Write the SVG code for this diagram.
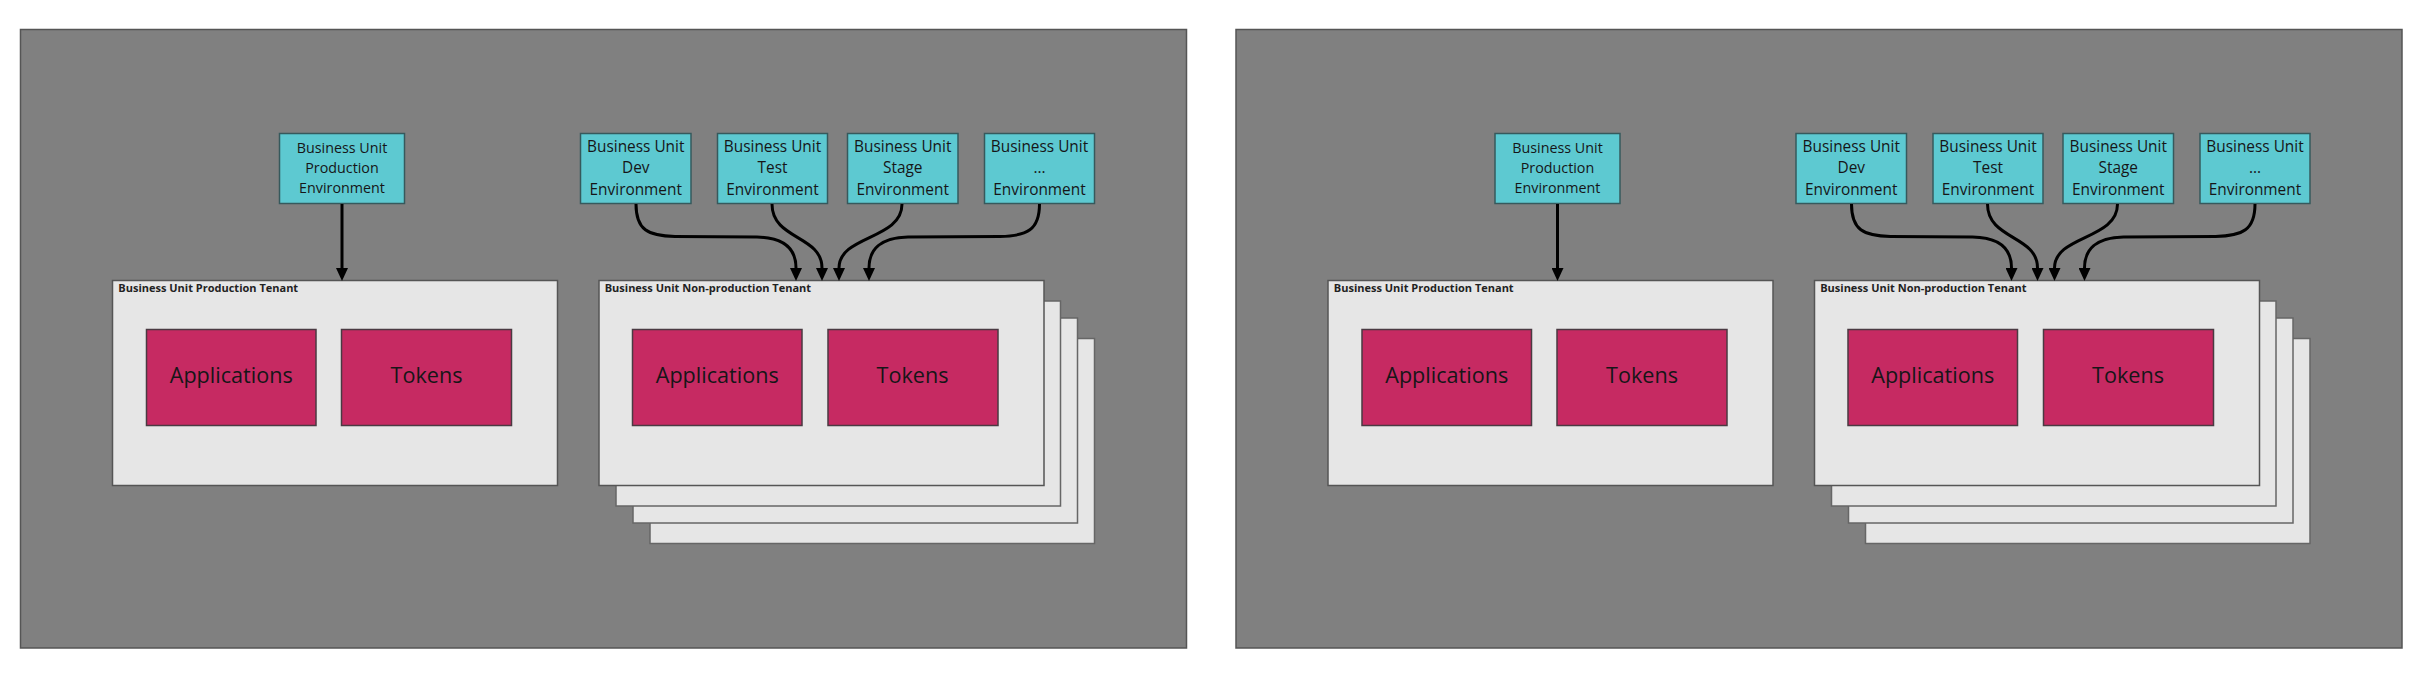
<svg xmlns="http://www.w3.org/2000/svg" width="2424" height="678" viewBox="0 0 2424 678">
<defs>
<style>
.panel{fill:#808080;stroke:#555;stroke-width:1.5}
.env{fill:#5DC9D1;stroke:#36595c;stroke-width:1.5}
.tenant{fill:#E6E6E6;stroke:#555;stroke-width:1.5}
.stack{fill:#E6E6E6;stroke:#666;stroke-width:1.5}
.comp{fill:#C62A62;stroke:#4a3a42;stroke-width:1.5}
.t{font-family:"Open Sans","Noto Sans",sans-serif;fill:#161618;text-anchor:middle}
.te{font-size:15.4px}
.tp{font-size:14.3px}
.title{font-family:"Open Sans","Noto Sans",sans-serif;font-weight:bold;font-size:11px;fill:#222}
.big{font-size:21.6px}
.edge{fill:none;stroke:#000;stroke-width:3}
</style>
<marker id="arr" markerUnits="userSpaceOnUse" markerWidth="13" markerHeight="12" viewBox="0 0 13 12" refX="0" refY="6" orient="auto">
<path d="M0,0 L13,6 L0,12 z" fill="#000"/>
</marker>
</defs>
<rect width="2424" height="678" fill="#fff"/>

<g id="left">
<rect id="left-panel" class="panel" x="20.5" y="29.5" width="1166" height="618.5"/>
<g id="prod-env"><rect class="env" x="279.5" y="133.5" width="125" height="70"/>
<text class="t tp" x="342" y="152.7">Business Unit</text><text class="t tp" x="342" y="172.7">Production</text><text class="t tp" x="342" y="192.7">Environment</text></g>
<g id="dev-env"><rect class="env" x="580.5" y="133.5" width="110.5" height="70"/>
<text class="t te" x="635.75" y="151.7">Business Unit</text><text class="t te" x="635.75" y="173.3">Dev</text><text class="t te" x="635.75" y="195">Environment</text></g>
<g id="test-env"><rect class="env" x="717.5" y="133.5" width="110" height="70"/>
<text class="t te" x="772.5" y="151.7">Business Unit</text><text class="t te" x="772.5" y="173.3">Test</text><text class="t te" x="772.5" y="195">Environment</text></g>
<g id="stage-env"><rect class="env" x="847.5" y="133.5" width="110.5" height="70"/>
<text class="t te" x="902.75" y="151.7">Business Unit</text><text class="t te" x="902.75" y="173.3">Stage</text><text class="t te" x="902.75" y="195">Environment</text></g>
<g id="etc-env"><rect class="env" x="984.5" y="133.5" width="110" height="70"/>
<text class="t te" x="1039.5" y="151.7">Business Unit</text><text class="t te" x="1039.5" y="173.3">...</text><text class="t te" x="1039.5" y="195">Environment</text></g>

<g id="prod-tenant"><rect class="tenant" x="112.5" y="280.5" width="445" height="205"/>
<text class="title" x="118.3" y="291.7">Business Unit Production Tenant</text></g>
<g id="prod-apps"><rect class="comp" x="146.5" y="329.5" width="169.5" height="96"/><text class="t big" x="231.25" y="383">Applications</text></g>
<g id="prod-tokens"><rect class="comp" x="341.5" y="329.5" width="170" height="96"/><text class="t big" x="426.5" y="383">Tokens</text></g>

<g id="nonprod-tenant">
<rect class="stack" x="650" y="338.5" width="444.5" height="205"/>
<rect class="stack" x="633" y="318" width="444.5" height="205"/>
<rect class="stack" x="616" y="301" width="444.5" height="205"/>
<rect class="tenant" x="599" y="280.5" width="445" height="205"/>
<text class="title" x="604.7" y="291.7">Business Unit Non-production Tenant</text></g>
<g id="nonprod-apps"><rect class="comp" x="632.5" y="329.5" width="169.5" height="96"/><text class="t big" x="717.25" y="383">Applications</text></g>
<g id="nonprod-tokens"><rect class="comp" x="828" y="329.5" width="170" height="96"/><text class="t big" x="912.5" y="383">Tokens</text></g>

<g id="left-edges">
<path class="edge" marker-end="url(#arr)" d="M342,204 L342,268"/>
<path class="edge" marker-end="url(#arr)" d="M636,204 C636,230 648,236 675,236.5 L757,237 C786,237.5 796,250 796,268"/>
<path class="edge" marker-end="url(#arr)" d="M772,204 C772,240 822,235 822,268"/>
<path class="edge" marker-end="url(#arr)" d="M902,204 C902,240 839,235 839,268"/>
<path class="edge" marker-end="url(#arr)" d="M1039.5,204 C1039.5,230 1027,236 1000,236.5 L908,237 C880,237.5 869,250 869,268"/>
</g>
</g>

<g id="right" transform="translate(1215.5,0)">
<rect id="right-panel" class="panel" x="20.5" y="29.5" width="1166" height="618.5"/>
<g id="r-prod-env"><rect class="env" x="279.5" y="133.5" width="125" height="70"/>
<text class="t tp" x="342" y="152.7">Business Unit</text><text class="t tp" x="342" y="172.7">Production</text><text class="t tp" x="342" y="192.7">Environment</text></g>
<g id="r-dev-env"><rect class="env" x="580.5" y="133.5" width="110.5" height="70"/>
<text class="t te" x="635.75" y="151.7">Business Unit</text><text class="t te" x="635.75" y="173.3">Dev</text><text class="t te" x="635.75" y="195">Environment</text></g>
<g id="r-test-env"><rect class="env" x="717.5" y="133.5" width="110" height="70"/>
<text class="t te" x="772.5" y="151.7">Business Unit</text><text class="t te" x="772.5" y="173.3">Test</text><text class="t te" x="772.5" y="195">Environment</text></g>
<g id="r-stage-env"><rect class="env" x="847.5" y="133.5" width="110.5" height="70"/>
<text class="t te" x="902.75" y="151.7">Business Unit</text><text class="t te" x="902.75" y="173.3">Stage</text><text class="t te" x="902.75" y="195">Environment</text></g>
<g id="r-etc-env"><rect class="env" x="984.5" y="133.5" width="110" height="70"/>
<text class="t te" x="1039.5" y="151.7">Business Unit</text><text class="t te" x="1039.5" y="173.3">...</text><text class="t te" x="1039.5" y="195">Environment</text></g>

<g id="r-prod-tenant"><rect class="tenant" x="112.5" y="280.5" width="445" height="205"/>
<text class="title" x="118.3" y="291.7">Business Unit Production Tenant</text></g>
<g id="r-prod-apps"><rect class="comp" x="146.5" y="329.5" width="169.5" height="96"/><text class="t big" x="231.25" y="383">Applications</text></g>
<g id="r-prod-tokens"><rect class="comp" x="341.5" y="329.5" width="170" height="96"/><text class="t big" x="426.5" y="383">Tokens</text></g>

<g id="r-nonprod-tenant">
<rect class="stack" x="650" y="338.5" width="444.5" height="205"/>
<rect class="stack" x="633" y="318" width="444.5" height="205"/>
<rect class="stack" x="616" y="301" width="444.5" height="205"/>
<rect class="tenant" x="599" y="280.5" width="445" height="205"/>
<text class="title" x="604.7" y="291.7">Business Unit Non-production Tenant</text></g>
<g id="r-nonprod-apps"><rect class="comp" x="632.5" y="329.5" width="169.5" height="96"/><text class="t big" x="717.25" y="383">Applications</text></g>
<g id="r-nonprod-tokens"><rect class="comp" x="828" y="329.5" width="170" height="96"/><text class="t big" x="912.5" y="383">Tokens</text></g>

<g id="right-edges">
<path class="edge" marker-end="url(#arr)" d="M342,204 L342,268"/>
<path class="edge" marker-end="url(#arr)" d="M636,204 C636,230 648,236 675,236.5 L757,237 C786,237.5 796,250 796,268"/>
<path class="edge" marker-end="url(#arr)" d="M772,204 C772,240 822,235 822,268"/>
<path class="edge" marker-end="url(#arr)" d="M902,204 C902,240 839,235 839,268"/>
<path class="edge" marker-end="url(#arr)" d="M1039.5,204 C1039.5,230 1027,236 1000,236.5 L908,237 C880,237.5 869,250 869,268"/>
</g>
</g>
</svg>
